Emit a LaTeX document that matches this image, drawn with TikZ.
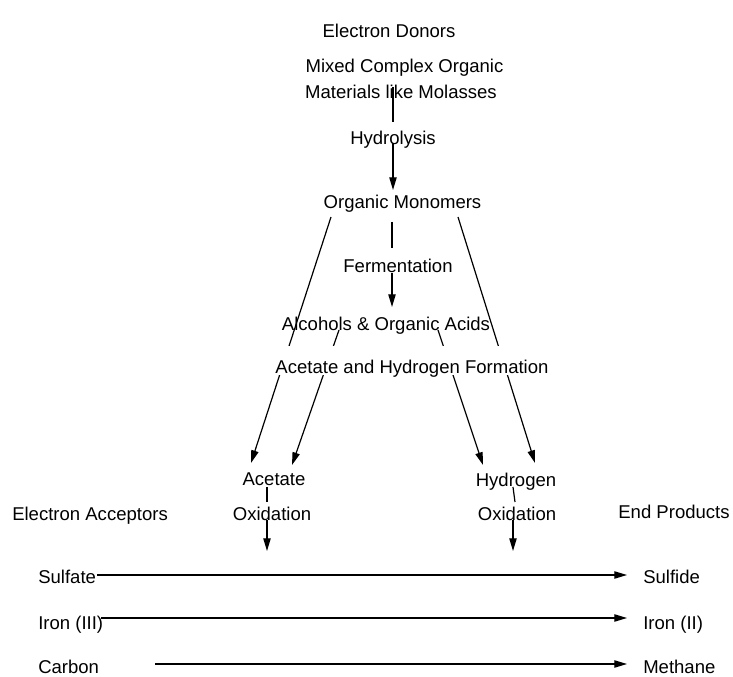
\documentclass[tikz,border=0pt]{standalone}
\usepackage{fontspec}
\setmainfont{Liberation Sans}
\usetikzlibrary{arrows.meta,backgrounds}
\begin{document}
\begin{tikzpicture}[x=0.75pt,y=-0.75pt,
  font=\fontsize{13.9pt}{16pt}\selectfont,
  lbl/.style={inner sep=0pt,anchor=base},
  lblw/.style={inner sep=0pt,anchor=base west},
  conn/.style={line width=0.9pt},
  arr/.style={conn,-{Triangle[length=9.5pt,width=5.5pt]}}]
\useasboundingbox (0,0) rectangle (733,677);
% top chain
\node[lbl] (donors) at (389,37.5) {Electron Donors};
\node[lbl] (mixed) at (404.5,73) {Mixed Complex Organic};
\node[lbl] (materials) at (401,99) {Materials like Molasses};
\node[lbl] (hydro) at (393,145) {Hydrolysis};
\node[lbl] (mono) at (402.5,209) {Organic Monomers};
\node[lbl] (ferm) at (398,273) {Fermentation};
\node[lbl] (alc) at (386,331) {Alcohols \& Organic Acids};
\node[lbl,fill=white,text height=21pt,text depth=0.75pt] (form) at (412,374) {Acetate and Hydrogen Formation};
\node[lbl] (acetate) at (274,486) {Acetate};
\node[lbl] (oxa) at (272,521) {Oxidation};
\node[lbl] (hydrogen) at (516,487) {Hydrogen};
\node[lbl] (oxh) at (517,521) {Oxidation};
% side headings
\node[lblw] (acceptors) at (12,521) {Electron Acceptors};
\node[lbl] (endprod) at (674,518.5) {End Products};
% bottom rows
\node[lblw] (sulfate) at (38,584) {Sulfate};
\node[lblw] (iron3) at (38,629) {Iron (III)};
\node[lblw] (carbon) at (38,673) {Carbon};
\node[lblw] (sulfide) at (643,584) {Sulfide};
\node[lblw] (iron2) at (643,629) {Iron (II)};
\node[lblw] (methane) at (643,673) {Methane};
% connector end points
\coordinate (matOut) at (393,87);
\coordinate (hydIn) at (393,122);
\coordinate (hydOut) at (393,143);
\coordinate (monoIn) at (393,190);
\coordinate (monoOut) at (392,222);
\coordinate (fermIn) at (392,248);
\coordinate (fermOut) at (392,273);
\coordinate (alcIn) at (392,307);
\coordinate (monoL) at (331,217);
\coordinate (acetIn1) at (251,463);
\coordinate (alcL) at (339,330);
\coordinate (acetIn2) at (292,465);
\coordinate (alcR) at (438,330);
\coordinate (hydrIn1) at (483,465);
\coordinate (monoR) at (458,217);
\coordinate (hydrIn2) at (535,463);
\coordinate (acetOut) at (267,487);
\coordinate (oxaIn) at (267,502);
\coordinate (oxaOut) at (267,520);
\coordinate (oxaEnd) at (267,551);
\coordinate (hydrOut) at (513,487);
\coordinate (oxhIn) at (515,502);
\coordinate (oxhOut) at (513,520);
\coordinate (oxhEnd) at (513,551);
\coordinate (sulfOut) at (97,575);
\coordinate (sulfIn) at (627,575);
\coordinate (ironOut) at (101,618);
\coordinate (ironIn) at (627,618);
\coordinate (carbOut) at (155,664);
\coordinate (methIn) at (627,664);
\begin{scope}[on background layer]
\draw[conn] (matOut) -- (hydIn);
\draw[arr] (hydOut) -- (monoIn);
\draw[conn] (monoOut) -- (fermIn);
\draw[arr] (fermOut) -- (alcIn);
\draw[arr] (monoL) -- (acetIn1);
\draw[arr] (alcL) -- (acetIn2);
\draw[arr] (alcR) -- (hydrIn1);
\draw[arr] (monoR) -- (hydrIn2);
\draw[conn] (acetOut) -- (oxaIn);
\draw[arr] (oxaOut) -- (oxaEnd);
\draw[conn] (hydrOut) -- (oxhIn);
\draw[arr] (oxhOut) -- (oxhEnd);
\draw[arr] (sulfOut) -- (sulfIn);
\draw[arr] (ironOut) -- (ironIn);
\draw[arr] (carbOut) -- (methIn);
\end{scope}
\end{tikzpicture}
\end{document}
